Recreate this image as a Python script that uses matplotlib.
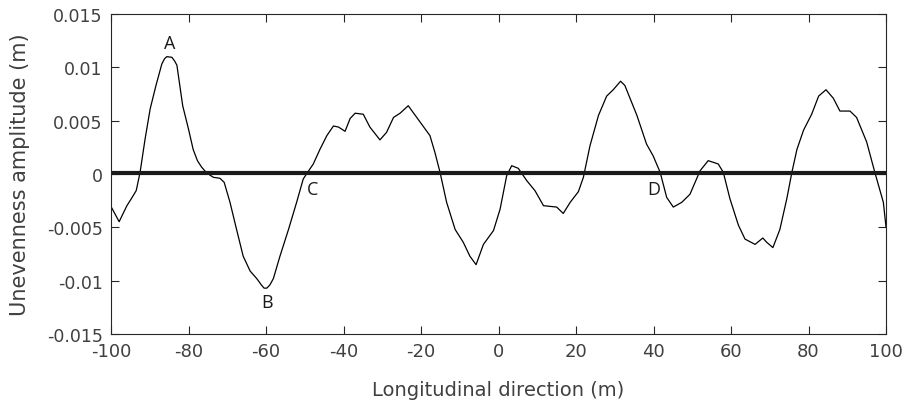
import numpy as np
import matplotlib.pyplot as plt

# profile (x in m, amplitude in m)
x_pos = [-99.8, -97.9, -95.9, -94.7, -93.5, -92.5, -91.2, -89.9, -88.4, -86.9,
         -86.2, -85.6, -84.3, -83.6, -83.0, -81.5, -80.0, -78.8, -77.7, -76.6,
         -75.3, -73.6, -71.9, -70.8, -69.3, -67.6, -65.9, -64.1, -62.4, -61.2,
         -60.5, -59.8, -59.0, -58.1, -56.4, -54.2, -52.1, -50.4, -49.1, -47.8,
         -46.1, -44.3, -42.6, -41.3, -39.6, -38.3, -37.0, -34.9, -33.2, -30.6,
         -28.9, -27.1, -25.4, -23.3, -21.1, -17.7, -16.4, -15.1, -13.4, -11.2,
         -9.1, -7.4, -5.8, -3.9, -1.3, 0.4, 2.1, 3.4, 5.1, 7.3,
         9.4, 11.6, 15.0, 16.7, 18.5, 20.6, 21.9, 23.6, 25.8, 27.9,
         29.6, 31.5, 32.6, 35.7, 38.2, 39.9, 41.7, 43.4, 45.1, 47.3,
         49.4, 52.0, 54.1, 56.7, 58.0, 59.7, 61.9, 63.6, 66.2, 68.2,
         69.2, 70.8, 72.6, 74.4, 75.7, 77.0, 78.7, 80.8, 82.6, 84.5,
         86.4, 88.1, 90.7, 92.4, 95.0, 97.1, 99.3, 100.0]
amp = [-0.00319, -0.00447, -0.00297, -0.00228, -0.00156, 0.00016, 0.0033, 0.0061, 0.0083, 0.0103,
       0.0108, 0.0110, 0.01094, 0.0106, 0.0102, 0.0064, 0.0042, 0.0023, 0.00125, 0.00063,
       0.0001, -0.00031, -0.0004, -0.00078, -0.00265, -0.0052, -0.0077, -0.0091, -0.0098, -0.0104,
       -0.0107, -0.0107, -0.0104, -0.0098, -0.0077, -0.0052, -0.00265, -0.00047, 0.00025, 0.00094,
       0.0023, 0.0036, 0.0045, 0.0044, 0.0040, 0.0052, 0.0057, 0.0056, 0.0044, 0.0032,
       0.0039, 0.0053, 0.0057, 0.0064, 0.0053, 0.0036, 0.0020, 0.00016, -0.00265, -0.0052,
       -0.0064, -0.0077, -0.0085, -0.0066, -0.0053, -0.0033, -0.00016, 0.00078, 0.00053, -0.00063,
       -0.00156, -0.00297, -0.0031, -0.0037, -0.00265, -0.00166, -0.00031, 0.00265, 0.0055, 0.0073,
       0.0079, 0.0087, 0.0083, 0.0055, 0.0028, 0.0017, 0.00016, -0.0022, -0.0031, -0.00265,
       -0.0019, 0.0003, 0.00125, 0.00094, 0.00016, -0.0023, -0.0048, -0.0061, -0.0066, -0.0060,
       -0.0064, -0.0069, -0.0052, -0.0023, 0.00016, 0.0023, 0.0041, 0.0056, 0.0073, 0.0079,
       0.0071, 0.0059, 0.0059, 0.0053, 0.0030, 0.00016, -0.00265, -0.0050]

ref_level = 0.0001

point_names = ['A', 'B', 'C', 'D']
point_x = [-84.8, -59.7, -47.9, 40.1]
point_y = [0.01228, -0.0120, -0.0014, -0.0014]

xticks = [-100, -80, -60, -40, -20, 0, 20, 40, 60, 80, 100]
yticks = [-0.015, -0.01, -0.005, 0, 0.005, 0.01, 0.015]
yticklabels = ['-0.015', '-0.01', '-0.005', '0', '0.005', '0.01', '0.015']

grey = '#404040'

fig = plt.figure(figsize=(9.07, 4.14), dpi=100)
ax = fig.add_axes([0.1224, 0.1908, 0.8545, 0.7730])

ax.plot(x_pos, amp, color='black', lw=0.9)
ax.axhline(ref_level, color='#1a1a1a', lw=3)

for name, px, py in zip(point_names, point_x, point_y):
    ax.text(px, py, name, fontsize=13, color='#1a1a1a', family='Open Sans',
            ha='center', va='center')

ax.set_xlim(-100, 100)
ax.set_ylim(-0.015, 0.015)
ax.set_xticks(xticks)
ax.set_xticklabels([str(v) for v in xticks], fontsize=13, color=grey)
ax.set_yticks(yticks)
ax.set_yticklabels(yticklabels, fontsize=12.5, color=grey)

ax.tick_params(direction='in', top=True, right=True, length=6, width=0.8,
               color='#262626', pad=6)
for sp in ax.spines.values():
    sp.set_color('#262626')
    sp.set_linewidth(0.8)

ax.set_xlabel('Longitudinal direction (m)', fontsize=14, color=grey, labelpad=14)
ax.set_ylabel('Unevenness amplitude (m)', fontsize=15, color=grey)
ax.yaxis.set_label_coords(-0.105, 0.5)

plt.savefig('out.png', dpi=100)
